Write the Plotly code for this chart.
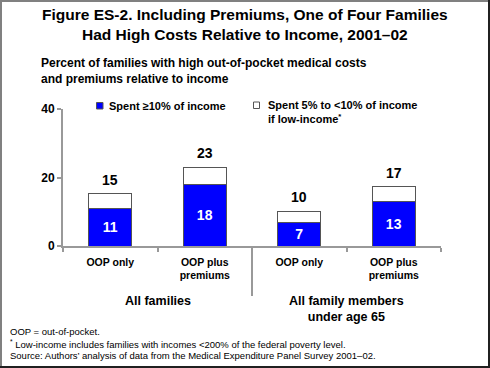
import plotly.graph_objects as go

# ---------------- data ----------------
categories = ["OOP only", "OOP plus<br>premiums", "OOP only", "OOP plus<br>premiums"]
group_names = ["All families", "All family members<br>under age 65"]
group_of_category = [0, 0, 1, 1]
high_spend = [10.9, 18.1, 6.8, 12.9]          # Spent >=10% of income
low_income_extra = [4.4, 4.9, 3.4, 4.4]       # Spent 5% to <10% of income if low-income
high_labels = ["11", "18", "7", "13"]
total_labels = ["15", "23", "10", "17"]
y_ticks = [0, 20, 40]
series_names = ["Spent \u226510% of income", "Spent 5% to &lt;10% of income<br>if low-income<sup>*</sup>"]
title_text = ("Figure ES-2. Including Premiums, One of Four Families<br>"
              "Had High Costs Relative to Income, 2001\u201302")
subtitle_text = ("Percent of families with high out-of-pocket medical costs<br>"
                 "and premiums relative to income")
footnotes = ["OOP = out-of-pocket.",
             "<sup>*</sup> Low-income includes families with incomes &lt;200% of the federal poverty level.",
             "Source: Authors\u2019 analysis of data from the Medical Expenditure Panel Survey 2001\u201302."]

# ---------------- layout helpers ----------------
W, H = 490, 368
L, R, T, B = 63, 49, 109, 122
FONT = "Liberation Sans, Arial, sans-serif"
BLUE = "#0000FF"
OUTLINE = "#555555"
AXIS = "#999999"


def px(x):
    return (x - L) / (W - L - R)


def py(y):
    return (H - B - y) / (H - T - B)


xpos = list(range(len(categories)))
totals = [a + b for a, b in zip(high_spend, low_income_extra)]

fig = go.Figure()
fig.add_trace(go.Bar(
    x=xpos, y=high_spend, width=0.46, name=series_names[0],
    marker=dict(color=BLUE, line=dict(color=OUTLINE, width=1)),
    text=high_labels, textposition="inside", insidetextanchor="middle",
    textangle=0, textfont=dict(family=FONT, size=14, color="white", weight="bold"),
    showlegend=False,
))
fig.add_trace(go.Bar(
    x=xpos, y=low_income_extra, width=0.46, name=series_names[1],
    marker=dict(color="white", line=dict(color=OUTLINE, width=1)),
    showlegend=False,
))

annotations = []
# totals above bars
for i, (t, lab) in enumerate(zip(totals, total_labels)):
    annotations.append(dict(x=xpos[i], y=t, xref="x", yref="y", text=lab, showarrow=False,
                            yanchor="bottom", yshift=4,
                            font=dict(family=FONT, size=14, color="black", weight="bold")))

# title and subtitle
annotations.append(dict(x=px(244.5), y=py(24), xref="paper", yref="paper", text=title_text,
                        showarrow=False, xanchor="center", yanchor="middle", align="center",
                        font=dict(family=FONT, size=15.5, color="black", weight="bold")))
annotations.append(dict(x=px(39), y=py(71), xref="paper", yref="paper", text=subtitle_text,
                        showarrow=False, xanchor="left", yanchor="middle", align="left",
                        font=dict(family=FONT, size=12, color="black", weight="bold")))

# legend (custom)
legend_font = dict(family=FONT, size=11, color="black", weight="bold")
annotations.append(dict(x=px(107), y=py(105.5), xref="paper", yref="paper", text=series_names[0],
                        showarrow=False, xanchor="left", yanchor="middle", font=legend_font))
annotations.append(dict(x=px(266), y=py(96.5), xref="paper", yref="paper", text=series_names[1],
                        showarrow=False, xanchor="left", yanchor="top", align="left", font=legend_font))

# group labels
for g, name in enumerate(group_names):
    members = [xpos[i] for i in range(len(xpos)) if group_of_category[i] == g]
    xc = sum(members) / len(members)
    annotations.append(dict(x=xc, y=py(292), xref="x", yref="paper", text=name,
                            showarrow=False, xanchor="center", yanchor="top", align="center",
                            font=dict(family=FONT, size=12.5, color="black", weight="bold")))

# footnotes
for line, yy in zip(footnotes, [331.7, 343.8, 355.6]):
    annotations.append(dict(x=px(8), y=py(yy), xref="paper", yref="paper", text=line,
                            showarrow=False, xanchor="left", yanchor="middle",
                            font=dict(family=FONT, size=9.5, color="black")))

shapes = []
# legend swatches
shapes.append(dict(type="rect", xref="paper", yref="paper", x0=px(96.5), x1=px(103), y0=py(109), y1=py(102.5),
                   fillcolor=BLUE, line=dict(color=OUTLINE, width=1)))
shapes.append(dict(type="rect", xref="paper", yref="paper", x0=px(253.5), x1=px(259.5), y0=py(108.5), y1=py(102),
                   fillcolor="white", line=dict(color=OUTLINE, width=1)))
# group divider
shapes.append(dict(type="line", xref="x", yref="paper", x0=1.5, x1=1.5, y0=0, y1=py(296),
                   line=dict(color=AXIS, width=2)))
# frame
shapes.append(dict(type="line", xref="paper", yref="paper", x0=px(1), x1=px(1), y0=py(0), y1=py(368),
                   line=dict(color="#808080", width=2)))
shapes.append(dict(type="line", xref="paper", yref="paper", x0=px(0), x1=px(490), y0=py(1), y1=py(1),
                   line=dict(color="#808080", width=2)))
shapes.append(dict(type="line", xref="paper", yref="paper", x0=px(489), x1=px(489), y0=py(0), y1=py(368),
                   line=dict(color="#202020", width=2)))
shapes.append(dict(type="line", xref="paper", yref="paper", x0=px(0), x1=px(490), y0=py(367), y1=py(367),
                   line=dict(color="#202020", width=2)))

fig.update_layout(
    width=W, height=H,
    margin=dict(l=L, r=R, t=T, b=B, pad=0),
    barmode="stack",
    paper_bgcolor="white", plot_bgcolor="white",
    annotations=annotations, shapes=shapes,
    showlegend=False,
    xaxis=dict(
        range=[-0.5, len(categories) - 0.5],
        tickmode="array", tickvals=xpos, ticktext=categories,
        ticks="outside", ticklen=0, tickcolor=AXIS, ticklabelstandoff=5,
        tickfont=dict(family=FONT, size=10.5, color="black", weight="bold"),
        showline=True, linecolor=AXIS, linewidth=2,
        showgrid=False, zeroline=False,
        minor=dict(tickmode="array", tickvals=[x - 0.5 for x in xpos] + [xpos[-1] + 0.5],
                   ticks="outside", ticklen=4, tickcolor=AXIS, tickwidth=1.5, showgrid=False),
    ),
    yaxis=dict(
        range=[0, 40], tickmode="array", tickvals=y_ticks,
        ticks="outside", ticklen=4, tickcolor=AXIS, tickwidth=1.5,
        tickfont=dict(family=FONT, size=12, color="black", weight="bold"),
        showline=True, linecolor=AXIS, linewidth=2,
        showgrid=False, zeroline=False,
    ),
)

fig.write_html("out.html", config={"displayModeBar": False},
               post_script="document.body.style.margin='0';")
